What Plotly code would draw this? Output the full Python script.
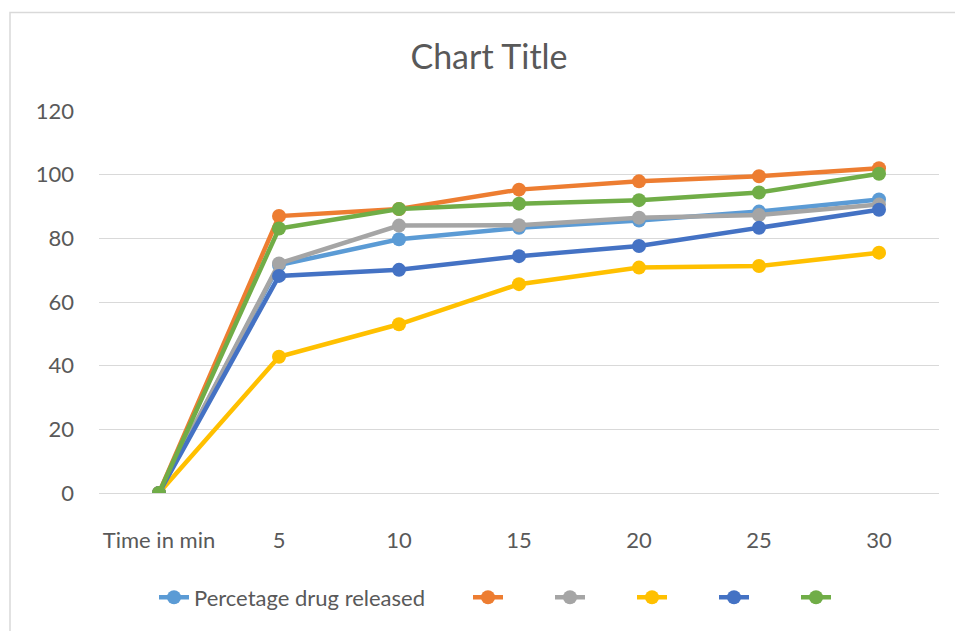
import plotly.graph_objects as go

categories = ["Time in min", "5", "10", "15", "20", "25", "30"]
series_names = ["Percetage drug released", "", "", "", "", ""]
s1 = [0, 71.6, 79.7, 83.3, 85.6, 88.4, 92.2]
s2 = [0, 87.0, 89.2, 95.3, 97.9, 99.5, 102.0]
s3 = [0, 72.1, 84.0, 84.1, 86.5, 87.3, 90.6]
s4 = [0, 42.8, 53.0, 65.6, 70.8, 71.3, 75.5]
s5 = [0, 68.2, 70.1, 74.4, 77.6, 83.3, 89.0]
s6 = [0, 83.1, 89.2, 90.9, 92.0, 94.4, 100.3]
colors = ["#5B9BD5", "#ED7D31", "#A5A5A5", "#FFC000", "#4472C4", "#70AD47"]
all_series = [s1, s2, s3, s4, s5, s6]

FONT = "Lato"
TXT = "#595959"
GRID = "#D9D9D9"

fig = go.Figure()
for i, (vals, name, col) in enumerate(zip(all_series, series_names, colors)):
    fig.add_trace(go.Scatter(
        x=categories, y=vals, name=name, mode="lines+markers",
        line=dict(color=col, width=4.5),
        marker=dict(color=col, size=14),
        legend="legend" if i == 0 else "legend2",
        hoverinfo="x+y",
    ))

W, H = 955, 631
L, R, T, B = 99, 16, 111, 136
pw, ph = W - L - R, H - T - B

def px_x(x):
    return (x - L) / pw

def px_y(y):
    return (H - B - y) / ph

fig.update_layout(
    width=W, height=H,
    margin=dict(l=L, r=R, t=T, b=B, pad=0),
    paper_bgcolor="white", plot_bgcolor="white",
    font=dict(family=FONT, color=TXT, size=22),
    title=dict(text="Chart Title", x=px_x(489), xref="paper", xanchor="center",
               y=1 - 57 / H, yanchor="middle", yref="container",
               font=dict(family=FONT, size=34, color=TXT)),
    xaxis=dict(type="category", range=[-0.5, 6.5], showgrid=False,
               showline=True, linecolor=GRID, linewidth=1.3,
               ticks="", ticklabelstandoff=27,
               tickfont=dict(family=FONT, size=22, color=TXT), fixedrange=True),
    yaxis=dict(range=[0, 120], dtick=20, showgrid=True, gridcolor=GRID, gridwidth=1.3,
               zeroline=True, zerolinecolor=GRID, zerolinewidth=1.3,
               showline=False, ticks="", ticklabelstandoff=24,
               tickfont=dict(family=FONT, size=22, color=TXT), fixedrange=True),
    legend=dict(orientation="h", x=px_x(154), xanchor="left",
                y=px_y(600), yanchor="middle",
                font=dict(family=FONT, size=22, color=TXT), bgcolor="rgba(0,0,0,0)"),
    legend2=dict(orientation="h", x=px_x(468), xanchor="left",
                 y=px_y(600), yanchor="middle", entrywidth=37, entrywidthmode="pixels",
                 font=dict(family=FONT, size=22, color=TXT), bgcolor="rgba(0,0,0,0)"),
    showlegend=True,
    shapes=[dict(type="rect", xref="paper", yref="paper",
                 x0=px_x(10), x1=px_x(970), y0=px_y(650), y1=px_y(12),
                 line=dict(color=GRID, width=1.5), layer="below")],
)

fig.write_html("out.html")
